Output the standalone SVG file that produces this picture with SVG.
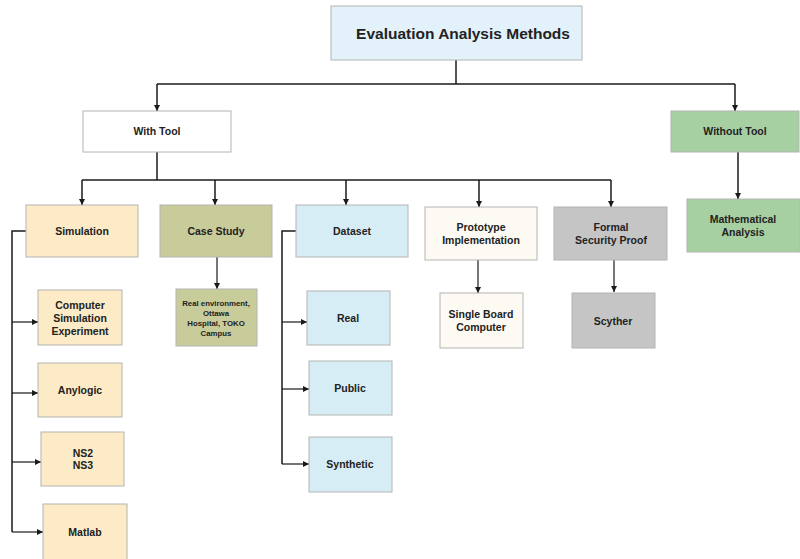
<svg xmlns="http://www.w3.org/2000/svg" width="800" height="559" viewBox="0 0 800 559">
  <defs>
    <marker id="arrow" viewBox="0 0 10 10" refX="10" refY="5" markerWidth="6" markerHeight="6" markerUnits="userSpaceOnUse" orient="auto">
      <path d="M0,0 L10,5 L0,10 z" fill="#1a1a1a"/>
    </marker>
    <style>
      .box { stroke: #b4b4b4; stroke-width: 1; }
      .t { font-family: "Liberation Sans", Arial, sans-serif; font-weight: bold; font-size: 10.5px; fill: #222; text-anchor: middle; }
      .small { font-size: 7.8px; }
      .title { font-size: 15.5px; }
      .conn { fill: none; stroke: #1a1a1a; stroke-width: 1.5; }
      .conn-thin { fill: none; stroke: #1a1a1a; stroke-width: 1.2; }
      .root { fill: #e2f1fa; }
      .white { fill: #ffffff; }
      .sim { fill: #fcebc6; }
      .case { fill: #c8cc9b; }
      .data { fill: #d7edf5; }
      .proto { fill: #fcfaf3; }
      .formal { fill: #c5c5c5; }
      .green { fill: #a6cfa2; }
    </style>
  </defs>

  <rect width="800" height="559" fill="#ffffff"/>

  <!-- connectors -->
  <g id="connectors">
    <!-- root to first level -->
    <path class="conn" d="M456,60 V84"/>
    <path class="conn" d="M157,84 H735"/>
    <path class="conn" d="M157,84 V111" marker-end="url(#arrow)"/>
    <path class="conn" d="M735,84 V111" marker-end="url(#arrow)"/>
    <!-- With Tool to its branches -->
    <path class="conn" d="M157,152 V180"/>
    <path class="conn" d="M82,180 H611"/>
    <path class="conn" d="M82,180 V205" marker-end="url(#arrow)"/>
    <path class="conn" d="M215,180 V205" marker-end="url(#arrow)"/>
    <path class="conn" d="M346,180 V205" marker-end="url(#arrow)"/>
    <path class="conn" d="M479,180 V207" marker-end="url(#arrow)"/>
    <path class="conn" d="M611,180 V207" marker-end="url(#arrow)"/>
    <!-- Without Tool -->
    <path class="conn" d="M738,152 V199" marker-end="url(#arrow)"/>
    <!-- Simulation children -->
    <path class="conn" d="M26,231 H12 V532"/>
    <path class="conn-thin" d="M12,322 H38" marker-end="url(#arrow)"/>
    <path class="conn-thin" d="M12,393 H38" marker-end="url(#arrow)"/>
    <path class="conn-thin" d="M12,462 H41" marker-end="url(#arrow)"/>
    <path class="conn-thin" d="M12,532 H43" marker-end="url(#arrow)"/>
    <!-- Case Study child -->
    <path class="conn-thin" d="M217,257 V289" marker-end="url(#arrow)"/>
    <!-- Dataset children -->
    <path class="conn" d="M296,231 H282 V464"/>
    <path class="conn-thin" d="M282,322 H307" marker-end="url(#arrow)"/>
    <path class="conn-thin" d="M282,389 H309" marker-end="url(#arrow)"/>
    <path class="conn-thin" d="M282,464 H309" marker-end="url(#arrow)"/>
    <!-- Prototype and Formal children -->
    <path class="conn-thin" d="M478,260 V293" marker-end="url(#arrow)"/>
    <path class="conn-thin" d="M614,260 V292" marker-end="url(#arrow)"/>
  </g>

  <g id="root">
    <rect class="box root" x="331" y="6" width="251" height="54"/>
    <text class="t title" x="463" y="39">Evaluation Analysis Methods</text>
  </g>

  <g id="with-tool">
    <rect class="box white" x="83" y="111" width="148" height="41"/>
    <text class="t" x="157" y="135">With Tool</text>
  </g>

  <g id="without-tool">
    <rect class="box green" x="671" y="111" width="128" height="41"/>
    <text class="t" x="735" y="135">Without Tool</text>
  </g>

  <g id="simulation">
    <rect class="box sim" x="26" y="205" width="112" height="52"/>
    <text class="t" x="82" y="235">Simulation</text>
  </g>

  <g id="case-study">
    <rect class="box case" x="160" y="205" width="112" height="52"/>
    <text class="t" x="216" y="235">Case Study</text>
  </g>

  <g id="dataset">
    <rect class="box data" x="296" y="205" width="112" height="52"/>
    <text class="t" x="352" y="235">Dataset</text>
  </g>

  <g id="prototype">
    <rect class="box proto" x="425" y="207" width="112" height="53"/>
    <text class="t" x="481" y="231">Prototype</text>
    <text class="t" x="481" y="244">Implementation</text>
  </g>

  <g id="formal-proof">
    <rect class="box formal" x="554" y="207" width="113" height="53"/>
    <text class="t" x="611" y="231">Formal</text>
    <text class="t" x="611" y="244">Security Proof</text>
  </g>

  <g id="math-analysis">
    <rect class="box green" x="687" y="199" width="113" height="53"/>
    <text class="t" x="743" y="223">Mathematical</text>
    <text class="t" x="743" y="236">Analysis</text>
  </g>

  <g id="computer-sim">
    <rect class="box sim" x="38" y="290" width="84" height="55"/>
    <text class="t" x="80" y="309">Computer</text>
    <text class="t" x="80" y="322">Simulation</text>
    <text class="t" x="80" y="335">Experiment</text>
  </g>

  <g id="anylogic">
    <rect class="box sim" x="38" y="363" width="84" height="54"/>
    <text class="t" x="80" y="394">Anylogic</text>
  </g>

  <g id="ns">
    <rect class="box sim" x="41" y="432" width="83" height="54"/>
    <text class="t" x="83" y="457">NS2</text>
    <text class="t" x="83" y="469">NS3</text>
  </g>

  <g id="matlab">
    <rect class="box sim" x="43" y="504" width="84" height="60"/>
    <text class="t" x="85" y="536">Matlab</text>
  </g>

  <g id="real-env">
    <rect class="box case" x="176" y="289" width="81" height="57"/>
    <text class="t small" x="216" y="306">Real environment,</text>
    <text class="t small" x="216" y="316">Ottawa</text>
    <text class="t small" x="216" y="326">Hospital, TOKO</text>
    <text class="t small" x="216" y="336">Campus</text>
  </g>

  <g id="real">
    <rect class="box data" x="307" y="291" width="83" height="54"/>
    <text class="t" x="348" y="322">Real</text>
  </g>

  <g id="public">
    <rect class="box data" x="309" y="361" width="83" height="54"/>
    <text class="t" x="350" y="392">Public</text>
  </g>

  <g id="synthetic">
    <rect class="box data" x="309" y="437" width="83" height="55"/>
    <text class="t" x="350" y="468">Synthetic</text>
  </g>

  <g id="single-board">
    <rect class="box proto" x="440" y="293" width="83" height="55"/>
    <text class="t" x="481" y="318">Single Board</text>
    <text class="t" x="481" y="331">Computer</text>
  </g>

  <g id="scyther">
    <rect class="box formal" x="572" y="293" width="83" height="55"/>
    <text class="t" x="613" y="325">Scyther</text>
  </g>
</svg>
